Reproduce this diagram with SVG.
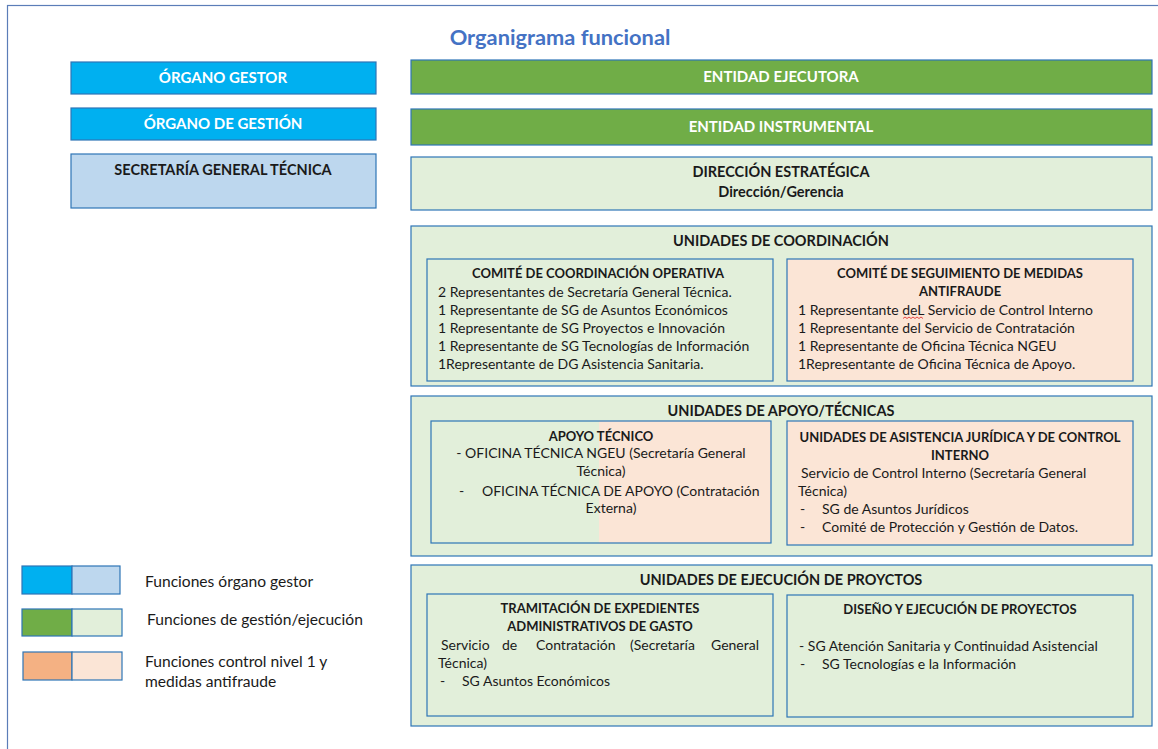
<svg xmlns="http://www.w3.org/2000/svg" width="1158" height="749" viewBox="0 0 1158 749">
<style>
text{font-family:Lato,"Open Sans","Liberation Sans",sans-serif;fill:#1a1a1a;font-size:14px}
.b{font-weight:bold;font-size:13px}
.h{font-weight:bold;font-size:14.5px}
.w{fill:#ffffff;font-weight:bold;font-size:15px}
.c{text-anchor:middle}
.bx{stroke:#2E75B6;stroke-width:1.2}
.blue{fill:#00B0F0}
.lblue{fill:#BDD7EE}
.green{fill:#70AD47}
.lgreen{fill:#E2EFDA}
.peach{fill:#F4B183}
.lpeach{fill:#FBE5D6}
.leg{font-size:15.6px}
</style>
<rect x="7.5" y="5.5" width="1160" height="760" fill="#ffffff" stroke="#5B7DB8" stroke-width="1.2"/>
<text x="560" y="45" class="c" style="font-weight:bold;font-size:21.8px;fill:#4472C4">Organigrama funcional</text>

<g id="organo-gestor">
<rect x="71" y="62" width="305" height="32" class="bx blue"/>
<text x="223" y="83" class="w c">ÓRGANO GESTOR</text>
</g>
<g id="organo-gestion">
<rect x="71" y="108" width="305" height="32" class="bx blue"/>
<text x="223" y="129" class="w c">ÓRGANO DE GESTIÓN</text>
</g>
<g id="sgt">
<rect x="71" y="154" width="305" height="54" class="bx lblue"/>
<text x="223" y="175" class="h c">SECRETARÍA GENERAL TÉCNICA</text>
</g>

<g id="entidad-ejecutora">
<rect x="411" y="60" width="741" height="34" class="bx green"/>
<text x="781" y="82" class="w c">ENTIDAD EJECUTORA</text>
</g>
<g id="entidad-instrumental">
<rect x="411" y="109" width="741" height="36" class="bx green"/>
<text x="781" y="132" class="w c">ENTIDAD INSTRUMENTAL</text>
</g>
<g id="direccion">
<rect x="411" y="157" width="741" height="53" class="bx lgreen"/>
<text x="781" y="177" class="h c">DIRECCIÓN ESTRATÉGICA</text>
<text x="781" y="197" class="h c">Dirección/Gerencia</text>
</g>

<g id="unidades-coordinacion">
<rect x="411" y="226" width="741" height="160" class="bx lgreen"/>
<text x="781" y="246" class="h c">UNIDADES DE COORDINACIÓN</text>
</g>
<g id="comite-coordinacion">
<rect x="427" y="259" width="346" height="122" class="bx lgreen"/>
<text x="598" y="278" class="b c">COMITÉ DE COORDINACIÓN OPERATIVA</text>
<text x="438" y="297">2 Representantes de Secretaría General Técnica.</text>
<text x="438" y="315">1 Representante de SG de Asuntos Económicos</text>
<text x="438" y="333">1 Representante de SG Proyectos e Innovación</text>
<text x="438" y="351">1 Representante de SG Tecnologías de Información</text>
<text x="438" y="369">1Representante de DG Asistencia Sanitaria.</text>
</g>
<g id="comite-antifraude">
<rect x="787" y="259" width="346" height="122" class="bx lpeach"/>
<text x="960" y="278" class="b c">COMITÉ DE SEGUIMIENTO DE MEDIDAS</text>
<text x="960" y="296" class="b c">ANTIFRAUDE</text>
<text x="798" y="315">1 Representante deL Servicio de Control Interno</text>
<path d="M903 318.5 l2 -1.5 l2 1.5 l2 -1.5 l2 1.5 l2 -1.5 l2 1.5 l2 -1.5 l2 1.5 l2 -1.5 l2 1.5" fill="none" stroke="#E02020" stroke-width="0.8"/>
<text x="798" y="333">1 Representante del Servicio de Contratación</text>
<text x="798" y="351">1 Representante de Oficina Técnica NGEU</text>
<text x="798" y="369">1Representante de Oficina Técnica de Apoyo.</text>
</g>

<g id="unidades-apoyo">
<rect x="411" y="396" width="741" height="160" class="bx lgreen"/>
<text x="781" y="416" class="h c">UNIDADES DE APOYO/TÉCNICAS</text>
</g>
<g id="apoyo-tecnico">
<rect x="431" y="421" width="168" height="122" class="lgreen"/>
<rect x="599" y="421" width="172" height="122" class="lpeach"/>
<rect x="431" y="421" width="340" height="122" fill="none" class="bx"/>
<text x="601" y="441" class="b c">APOYO TÉCNICO</text>
<text x="601" y="458" class="c">- OFICINA TÉCNICA NGEU (Secretaría General</text>
<text x="601" y="476" class="c">Técnica)</text>
<text x="459" y="496">-</text>
<text x="482" y="496">OFICINA TÉCNICA DE APOYO (Contratación</text>
<text x="611" y="513" class="c">Externa)</text>
</g>
<g id="asistencia-juridica">
<rect x="787" y="421" width="346" height="124" class="bx lpeach"/>
<text x="960" y="442" class="b c">UNIDADES DE ASISTENCIA JURÍDICA Y DE CONTROL</text>
<text x="960" y="460" class="b c">INTERNO</text>
<text x="801" y="478">Servicio de Control Interno (Secretaría General</text>
<text x="798" y="496">Técnica)</text>
<text x="800" y="514">-</text>
<text x="822" y="514">SG de Asuntos Jurídicos</text>
<text x="800" y="532">-</text>
<text x="822" y="532">Comité de Protección y Gestión de Datos.</text>
</g>

<g id="unidades-ejecucion">
<rect x="411" y="565" width="741" height="161" class="bx lgreen"/>
<text x="781" y="585" class="h c">UNIDADES DE EJECUCIÓN DE PROYCTOS</text>
</g>
<g id="tramitacion">
<rect x="427" y="594" width="346" height="122" class="bx lgreen"/>
<text x="600" y="613" class="b c">TRAMITACIÓN DE EXPEDIENTES</text>
<text x="600" y="631" class="b c">ADMINISTRATIVOS DE GASTO</text>
<text x="441" y="650">Servicio</text>
<text x="502" y="650">de</text>
<text x="536" y="650">Contratación</text>
<text x="630" y="650">(Secretaría</text>
<text x="711" y="650">General</text>
<text x="438" y="668">Técnica)</text>
<text x="440" y="686">-</text>
<text x="462" y="686">SG Asuntos Económicos</text>
</g>
<g id="diseno">
<rect x="787" y="595" width="346" height="122" class="bx lgreen"/>
<text x="960" y="614" class="b c">DISEÑO Y EJECUCIÓN DE PROYECTOS</text>
<text x="799" y="651">- SG Atención Sanitaria y Continuidad Asistencial</text>
<text x="800" y="669">-</text>
<text x="822" y="669">SG Tecnologías e la Información</text>
</g>

<g id="legend">
<rect x="22" y="566" width="50" height="28" class="bx blue"/>
<rect x="72" y="566" width="48" height="28" class="bx lblue"/>
<text x="145" y="587" class="leg">Funciones órgano gestor</text>
<rect x="22" y="609" width="50" height="27" class="bx green"/>
<rect x="72" y="609" width="50" height="27" class="bx lgreen"/>
<text x="147" y="625" class="leg">Funciones de gestión/ejecución</text>
<rect x="23" y="652" width="49" height="28" class="bx peach"/>
<rect x="72" y="652" width="50" height="28" class="bx lpeach"/>
<text x="145" y="667" class="leg">Funciones control nivel 1 y</text>
<text x="145" y="687" class="leg">medidas antifraude</text>
</g>
<g id="connectors"></g>
</svg>
